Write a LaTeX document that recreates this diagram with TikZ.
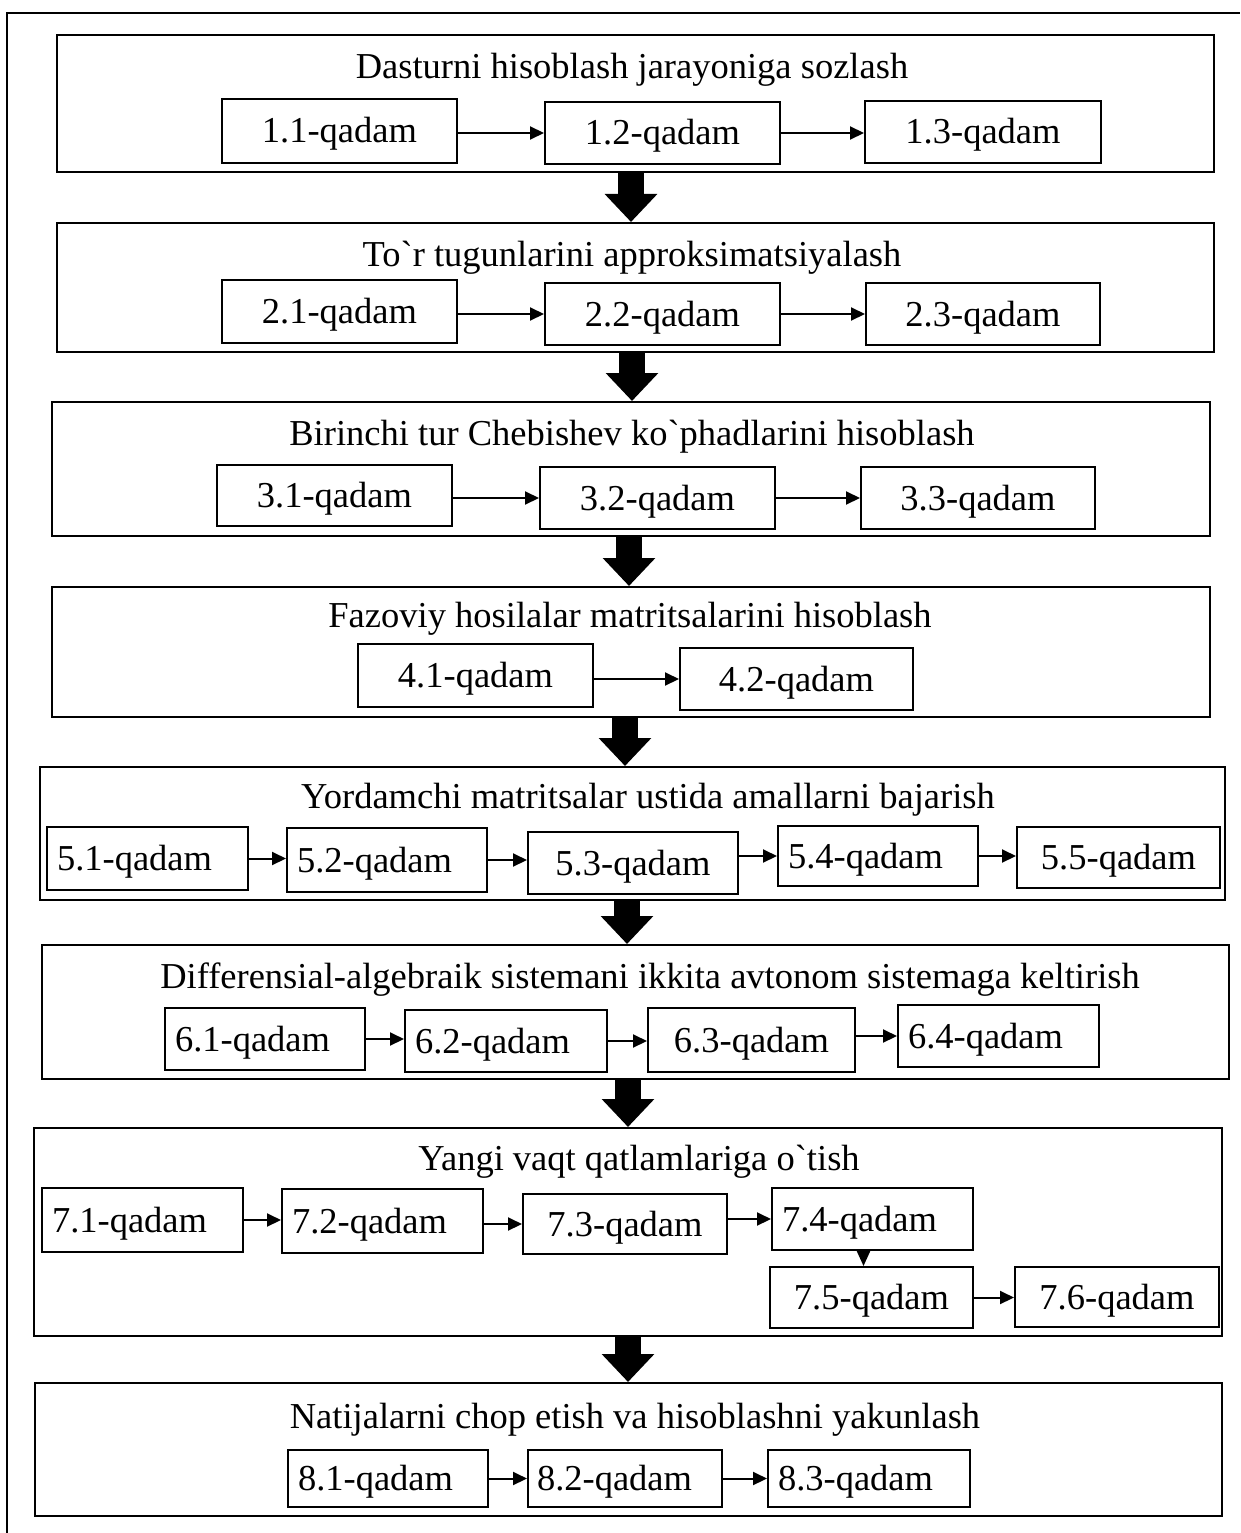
\documentclass[tikz,border=0pt]{standalone}
\usepackage{fontspec}
\newfontfamily\tnr{Liberation Serif}
\usetikzlibrary{arrows.meta,calc}
\tikzset{
  grp/.style={draw, line width=2pt, rectangle, inner sep=0pt},
  sb/.style={draw, line width=2pt, rectangle, inner sep=0pt, text height=30pt, text depth=6pt, font=\tnr\fontsize{36.5}{40}\selectfont},
  ttl/.style={inner sep=0pt, font=\tnr\fontsize{36.5}{40}\selectfont},
  thin/.style={line width=2pt, -{Triangle[length=14pt,width=13pt]}},
  big/.style={line width=26pt, -{Triangle[length=28pt,width=51pt]}},
  frame/.style={line width=2pt}
}
\begin{document}
\begin{tikzpicture}[x=1pt,y=-1pt]
\useasboundingbox (0,0) rectangle (1240,1533);
\fill[white] (0,0) rectangle (1240,1533);
\draw[frame] (7,1533) -- (7,13) -- (1240,13);

% group 1
\node[grp, minimum width=1157pt, minimum height=137pt] (g1) at (635.5,103.5) {};
\node[ttl] (t1) at (632,70) {Dasturni hisoblash jarayoniga sozlash};
\node[sb, minimum width=235pt, minimum height=64pt] (s11) at (339.5,131) {1.1-qadam};
\node[sb, minimum width=235pt, minimum height=62pt] (s12) at (662.5,133) {1.2-qadam};
\node[sb, minimum width=236pt, minimum height=62pt] (s13) at (983,132) {1.3-qadam};
\draw[thin] (s11.east |- s12.west) -- (s12.west);
\draw[thin] (s12.east) -- (s12.east -| s13.west);

% group 2
\node[grp, minimum width=1157pt, minimum height=129pt] (g2) at (635.5,287.5) {};
\node[ttl] (t2) at (632,258) {To`r tugunlarini approksimatsiyalash};
\node[sb, minimum width=235pt, minimum height=63pt] (s21) at (339.5,311.5) {2.1-qadam};
\node[sb, minimum width=235pt, minimum height=62pt] (s22) at (662.5,314) {2.2-qadam};
\node[sb, minimum width=234pt, minimum height=62pt] (s23) at (983,314) {2.3-qadam};
\draw[thin] (s21.east |- s22.west) -- (s22.west);
\draw[thin] (s22.east) -- (s22.east -| s23.west);

% group 3
\node[grp, minimum width=1158pt, minimum height=134pt] (g3) at (631,469) {};
\node[ttl] (t3) at (632,437) {Birinchi tur Chebishev ko`phadlarini hisoblash};
\node[sb, minimum width=235pt, minimum height=61pt] (s31) at (334.5,495.5) {3.1-qadam};
\node[sb, minimum width=235pt, minimum height=62pt] (s32) at (657.5,498) {3.2-qadam};
\node[sb, minimum width=234pt, minimum height=62pt] (s33) at (978,498) {3.3-qadam};
\draw[thin] (s31.east |- s32.west) -- (s32.west);
\draw[thin] (s32.east) -- (s32.east -| s33.west);

% group 4
\node[grp, minimum width=1158pt, minimum height=130pt] (g4) at (631,652) {};
\node[ttl] (t4) at (630,619) {Fazoviy hosilalar matritsalarini hisoblash};
\node[sb, minimum width=235pt, minimum height=63pt] (s41) at (475.5,675.5) {4.1-qadam};
\node[sb, minimum width=233pt, minimum height=62pt] (s42) at (796.5,679) {4.2-qadam};
\draw[thin] (s41.east |- s42.west) -- (s42.west);

% group 5
\node[grp, minimum width=1185pt, minimum height=133pt] (g5) at (632.5,833.5) {};
\node[ttl] (t5) at (648,800) {Yordamchi matritsalar ustida amallarni bajarish};
\node[sb, minimum width=201pt, minimum height=63pt, text width=181pt, align=left] (s51) at (147.5,858.5) {5.1-qadam};
\node[sb, minimum width=200pt, minimum height=64pt, text width=180pt, align=left] (s52) at (387,860) {5.2-qadam};
\node[sb, minimum width=210pt, minimum height=62pt] (s53) at (633,863) {5.3-qadam};
\node[sb, minimum width=200pt, minimum height=60pt, text width=180pt, align=left] (s54) at (878,856) {5.4-qadam};
\node[sb, minimum width=203pt, minimum height=61pt] (s55) at (1118.5,857.5) {5.5-qadam};
\draw[thin] (s51.east) -- (s51.east -| s52.west);
\draw[thin] (s52.east) -- (s52.east -| s53.west);
\draw[thin] (s53.east |- s54.west) -- (s54.west);
\draw[thin] (s54.east) -- (s54.east -| s55.west);

% group 6
\node[grp, minimum width=1187pt, minimum height=134pt] (g6) at (635.5,1012) {};
\node[ttl] (t6) at (650,980) {Differensial-algebraik sistemani ikkita avtonom sistemaga keltirish};
\node[sb, minimum width=200pt, minimum height=62pt, text width=180pt, align=left] (s61) at (265,1039) {6.1-qadam};
\node[sb, minimum width=202pt, minimum height=62pt, text width=182pt, align=left] (s62) at (506,1041) {6.2-qadam};
\node[sb, minimum width=207pt, minimum height=64pt] (s63) at (751.5,1040) {6.3-qadam};
\node[sb, minimum width=201pt, minimum height=62pt, text width=181pt, align=left] (s64) at (998.5,1036) {6.4-qadam};
\draw[thin] (s61.east) -- (s61.east -| s62.west);
\draw[thin] (s62.east) -- (s62.east -| s63.west);
\draw[thin] (s63.east |- s64.west) -- (s64.west);

% group 7
\node[grp, minimum width=1188pt, minimum height=208pt] (g7) at (628,1232) {};
\node[ttl] (t7) at (639,1162) {Yangi vaqt qatlamlariga o`tish};
\node[sb, minimum width=201pt, minimum height=64pt, text width=181pt, align=left] (s71) at (142.5,1220) {7.1-qadam};
\node[sb, minimum width=201pt, minimum height=64pt, text width=181pt, align=left] (s72) at (382.5,1221) {7.2-qadam};
\node[sb, minimum width=204pt, minimum height=60pt] (s73) at (625,1224) {7.3-qadam};
\node[sb, minimum width=201pt, minimum height=62pt, text width=181pt, align=left] (s74) at (872.5,1219) {7.4-qadam};
\node[sb, minimum width=203pt, minimum height=61pt] (s75) at (871.5,1297.5) {7.5-qadam};
\node[sb, minimum width=204pt, minimum height=60pt] (s76) at (1117,1297) {7.6-qadam};
\draw[thin] (s71.east) -- (s71.east -| s72.west);
\draw[thin] (s72.east |- s73.west) -- (s73.west);
\draw[thin] (s73.east |- s74.west) -- (s74.west);
\draw[line width=2pt, -{Triangle[length=16pt,width=14pt]}] ([xshift=-9pt]s74.south) -- ([xshift=-9pt]s74.south |- s75.north);
\draw[thin] (s75.east) -- (s75.east -| s76.west);

% group 8
\node[grp, minimum width=1187pt, minimum height=133pt] (g8) at (628.5,1449.5) {};
\node[ttl] (t8) at (635,1420) {Natijalarni chop etish va hisoblashni yakunlash};
\node[sb, minimum width=200pt, minimum height=57pt, text width=180pt, align=left] (s81) at (388,1478.5) {8.1-qadam};
\node[sb, minimum width=194pt, minimum height=57pt, text width=176pt, align=left] (s82) at (625,1478.5) {8.2-qadam};
\node[sb, minimum width=202pt, minimum height=57pt, text width=182pt, align=left] (s83) at (869,1478.5) {8.3-qadam};
\draw[thin] (s81.east) -- (s82.west);
\draw[thin] (s82.east) -- (s83.west);

% big arrows between groups
\draw[big] ([xshift=-4.5pt]g1.south) -- ([xshift=-4.5pt]g1.south |- g2.north);
\draw[big] ([xshift=-3.5pt]g2.south) -- ([xshift=-3.5pt]g2.south |- g3.north);
\draw[big] ([xshift=-2pt]g3.south) -- ([xshift=-2pt]g3.south |- g4.north);
\draw[big] ([xshift=-6pt]g4.south) -- ([xshift=-6pt]g4.south |- g5.north);
\draw[big] ([xshift=-5.5pt]g5.south) -- ([xshift=-5.5pt]g5.south |- g6.north);
\draw[big] ([xshift=-7.5pt]g6.south) -- ([xshift=-7.5pt]g6.south |- g7.north);
\draw[big] (g7.south) -- (g7.south |- g8.north);
\end{tikzpicture}
\end{document}
